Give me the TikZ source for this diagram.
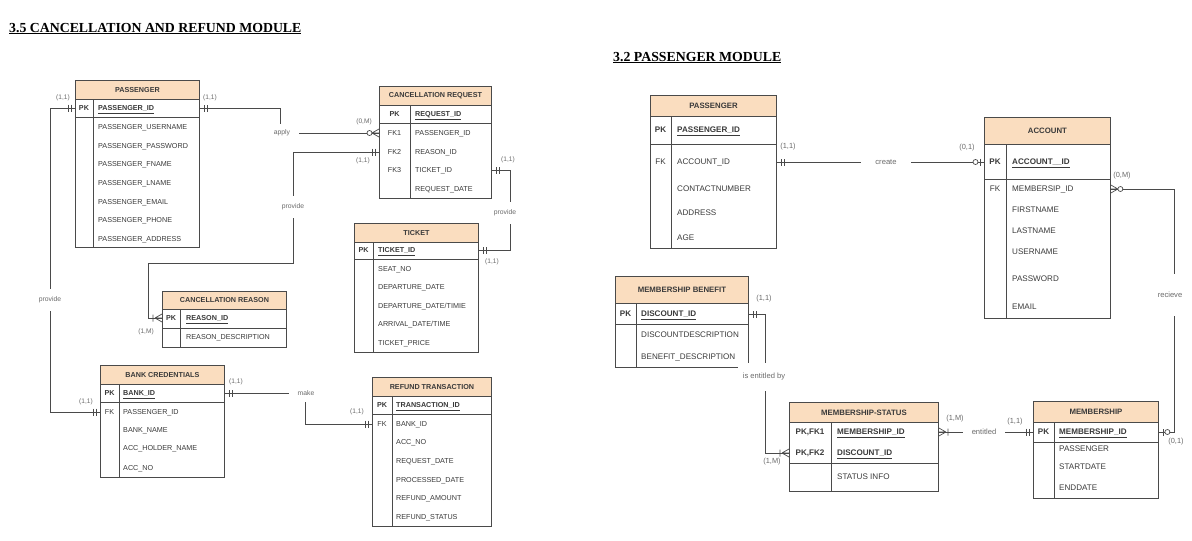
\documentclass[tikz,border=0pt]{standalone}
\usepackage{fontspec}
\setmainfont{Liberation Serif}
\setsansfont{Liberation Sans}
\definecolor{hdrc}{HTML}{FADDBF}
\definecolor{bordc}{HTML}{4A4A4A}
\definecolor{txtc}{HTML}{3A3A3A}
\definecolor{lblc}{HTML}{6A6A6A}
\tikzset{
  ln/.style={draw=bordc, line width=0.7pt},
  tbl/.style={draw=bordc, line width=0.9pt, inner sep=0pt, anchor=north west},
  hd/.style={tbl, fill=hdrc, text=txtc},
  lh/.style={hd, font=\sffamily\bfseries\fontsize{7.2}{8}\selectfont},
  rh/.style={hd, font=\sffamily\bfseries\fontsize{7.8}{9}\selectfont},
  la/.style={anchor=west, inner sep=0pt, text=txtc, text height=5.2pt, text depth=0pt, font=\sffamily\fontsize{7.2}{8}\selectfont},
  ra/.style={anchor=west, inner sep=0pt, text=txtc, text height=5.8pt, text depth=0pt, font=\sffamily\fontsize{8.1}{9}\selectfont},
  lk/.style={inner sep=0pt, text=txtc, text height=5.2pt, text depth=0pt, font=\sffamily\fontsize{7.2}{8}\selectfont},
  rk/.style={inner sep=0pt, text=txtc, text height=5.8pt, text depth=0pt, font=\sffamily\fontsize{8.1}{9}\selectfont},
  lb/.style={inner sep=0pt, text=lblc, font=\sffamily\fontsize{6.6}{7}\selectfont},
  rb/.style={inner sep=0pt, text=lblc, font=\sffamily\fontsize{7.4}{8}\selectfont},
  lrel/.style={fill=white, inner xsep=5pt, inner ysep=4pt, text=lblc, font=\sffamily\fontsize{6.8}{8}\selectfont},
  rrel/.style={fill=white, inner xsep=5pt, inner ysep=4pt, text=lblc, font=\sffamily\fontsize{7.6}{9}\selectfont},
  ttl/.style={anchor=base west, inner sep=0pt, text=black, font=\rmfamily\bfseries\fontsize{13.8}{16}\selectfont},
  pics/erone/.style={code={\draw[ln] (-4,-3.5) -- (-4,3.5) (-7,-3.5) -- (-7,3.5);}},
  pics/erzm/.style={code={\draw[ln] (-7,0) -- (0,-4) (-7,0) -- (0,0) (-7,0) -- (0,4); \draw[ln, fill=white] (-9.5,0) circle (2.5pt);}},
  pics/erom/.style={code={\draw[ln] (-7,0) -- (0,-4) (-7,0) -- (0,0) (-7,0) -- (0,4) (-9,-3.5) -- (-9,3.5);}},
  pics/erzo/.style={code={\draw[ln] (-4,-3.5) -- (-4,3.5); \draw[ln, fill=white] (-8.5,0) circle (2.5pt);}},
}
\begin{document}
\begin{tikzpicture}[x=1pt, y=-1pt]
\useasboundingbox[fill=white] (0,0) rectangle (1192,541);

% titles
\node[ttl] (t1) at (9,32) {\underline{3.5 CANCELLATION AND REFUND MODULE}};
\node[ttl] (t2) at (613,61) {\underline{3.2 PASSENGER MODULE}};

% ================= LEFT: PASSENGER =================
\node[tbl, minimum width=124pt, minimum height=167pt] (lp) at (75,80) {};
\node[lh, minimum width=124pt, minimum height=19pt] (lp-h) at (75,80) {PASSENGER};
\draw[ln] (75,117) -- (199,117) (93,99) -- (93,247);
\node[lk, font=\sffamily\bfseries\fontsize{7.2}{8}\selectfont] (lp-k1) at (84,108) {PK};
\node[la] (lp-r1) at (98,108) {\bfseries\underline{PASSENGER\_ID}};
\node[la] (lp-r2) at (98,127) {PASSENGER\_USERNAME};
\node[la] (lp-r3) at (98,146) {PASSENGER\_PASSWORD};
\node[la] (lp-r4) at (98,164) {PASSENGER\_FNAME};
\node[la] (lp-r5) at (98,183) {PASSENGER\_LNAME};
\node[la] (lp-r6) at (98,202) {PASSENGER\_EMAIL};
\node[la] (lp-r7) at (98,220) {PASSENGER\_PHONE};
\node[la] (lp-r8) at (98,239) {PASSENGER\_ADDRESS};

% ================= CANCELLATION REQUEST =================
\node[tbl, minimum width=112pt, minimum height=112pt] (cr) at (379,86) {};
\node[lh, minimum width=112pt, minimum height=19pt] (cr-h) at (379,86) {CANCELLATION REQUEST};
\draw[ln] (379,123) -- (491,123) (410,105) -- (410,198);
\node[lk, font=\sffamily\bfseries\fontsize{7.2}{8}\selectfont] (cr-k1) at (394.5,114) {PK};
\node[lk] (cr-k2) at (394.5,133) {FK1};
\node[lk] (cr-k3) at (394.5,152) {FK2};
\node[lk] (cr-k4) at (394.5,170) {FK3};
\node[la] (cr-r1) at (415,114) {\bfseries\underline{REQUEST\_ID}};
\node[la] (cr-r2) at (415,133) {PASSENGER\_ID};
\node[la] (cr-r3) at (415,152) {REASON\_ID};
\node[la] (cr-r4) at (415,170) {TICKET\_ID};
\node[la] (cr-r5) at (415,189) {REQUEST\_DATE};

% ================= TICKET =================
\node[tbl, minimum width=124pt, minimum height=129pt] (tk) at (354,223) {};
\node[lh, minimum width=124pt, minimum height=19pt] (tk-h) at (354,223) {TICKET};
\draw[ln] (354,259) -- (478,259) (373,242) -- (373,352);
\node[lk, font=\sffamily\bfseries\fontsize{7.2}{8}\selectfont] (tk-k1) at (363.5,250) {PK};
\node[la] (tk-r1) at (378,250) {\bfseries\underline{TICKET\_ID}};
\node[la] (tk-r2) at (378,269) {SEAT\_NO};
\node[la] (tk-r3) at (378,287) {DEPARTURE\_DATE};
\node[la] (tk-r4) at (378,306) {DEPARTURE\_DATE/TIMIE};
\node[la] (tk-r5) at (378,324) {ARRIVAL\_DATE/TIME};
\node[la] (tk-r6) at (378,343) {TICKET\_PRICE};

% ================= CANCELLATION REASON =================
\node[tbl, minimum width=124pt, minimum height=56pt] (rs) at (162,291) {};
\node[lh, minimum width=124pt, minimum height=18pt] (rs-h) at (162,291) {CANCELLATION REASON};
\draw[ln] (162,328) -- (286,328) (180,309) -- (180,347);
\node[lk, font=\sffamily\bfseries\fontsize{7.2}{8}\selectfont] (rs-k1) at (171,318) {PK};
\node[la] (rs-r1) at (186,318) {\bfseries\underline{REASON\_ID}};
\node[la] (rs-r2) at (186,337) {REASON\_DESCRIPTION};

% ================= BANK CREDENTIALS =================
\node[tbl, minimum width=124pt, minimum height=112pt] (bc) at (100,365) {};
\node[lh, minimum width=124pt, minimum height=19pt] (bc-h) at (100,365) {BANK CREDENTIALS};
\draw[ln] (100,402) -- (224,402) (119,384) -- (119,477);
\node[lk, font=\sffamily\bfseries\fontsize{7.2}{8}\selectfont] (bc-k1) at (109.5,393) {PK};
\node[lk] (bc-k2) at (109.5,412) {FK};
\node[la] (bc-r1) at (123,393) {\bfseries\underline{BANK\_ID}};
\node[la] (bc-r2) at (123,412) {PASSENGER\_ID};
\node[la] (bc-r3) at (123,430) {BANK\_NAME};
\node[la] (bc-r4) at (123,448) {ACC\_HOLDER\_NAME};
\node[la] (bc-r5) at (123,468) {ACC\_NO};

% ================= REFUND TRANSACTION =================
\node[tbl, minimum width=119pt, minimum height=149pt] (rf) at (372,377) {};
\node[lh, minimum width=119pt, minimum height=19pt] (rf-h) at (372,377) {REFUND TRANSACTION};
\draw[ln] (372,414) -- (491,414) (392,396) -- (392,526);
\node[lk, font=\sffamily\bfseries\fontsize{7.2}{8}\selectfont] (rf-k1) at (382,405) {PK};
\node[lk] (rf-k2) at (382,424) {FK};
\node[la] (rf-r1) at (396,405) {\bfseries\underline{TRANSACTION\_ID}};
\node[la] (rf-r2) at (396,424) {BANK\_ID};
\node[la] (rf-r3) at (396,442) {ACC\_NO};
\node[la] (rf-r4) at (396,461) {REQUEST\_DATE};
\node[la] (rf-r5) at (396,480) {PROCESSED\_DATE};
\node[la] (rf-r6) at (396,498) {REFUND\_AMOUNT};
\node[la] (rf-r7) at (396,517) {REFUND\_STATUS};

% ---- left connectors ----
\draw[ln] (lp.west |- lp-r1) -- ++(-25,0) |- (bc.west |- bc-r2);
\pic at (bc.west |- bc-r2) {erone};
\pic at (lp.west |- lp-r1) {erone};
\node[lrel, inner ysep=8pt] (rl1) at (50,300) {provide};
\node[lb] (c1) at (63,98) {(1,1)};
\node[lb] (c2) at (86,402) {(1,1)};

\draw[ln] (lp.east |- lp-r1) -- ++(80,0) |- (cr.west |- cr-r2);
\pic[rotate=180] at (lp.east |- lp-r1) {erone};
\pic at (cr.west |- cr-r2) {erzm};
\node[lrel, inner xsep=9pt, inner ysep=6pt] (rl2) at (282,133) {apply};
\node[lb] (c3) at (210,98) {(1,1)};
\node[lb] (c4) at (364,122) {(0,M)};

\draw[ln] (cr.west |- cr-r3) -- ++(-86,0) |- ++(-145,111) |- (rs.west |- rs-r1);
\pic at (cr.west |- cr-r3) {erone};
\pic at (rs.west |- rs-r1) {erom};
\node[lrel, inner ysep=8pt] (rl3) at (293,207) {provide};
\node[lb] (c5) at (363,161) {(1,1)};
\node[lb] (c6) at (146,332) {(1,M)};

\draw[ln] (cr.east |- cr-r4) -- ++(18,0) |- (tk.east |- tk-r1);
\pic[rotate=180] at (cr.east |- cr-r4) {erone};
\pic[rotate=180] at (tk.east |- tk-r1) {erone};
\node[lrel, inner ysep=8pt] (rl4) at (505,213) {provide};
\node[lb] (c7) at (508,160) {(1,1)};
\node[lb] (c8) at (492,262) {(1,1)};

\draw[ln] (bc.east |- bc-r1) -| ++(80,31) -- (rf.west |- rf-r2);
\pic[rotate=180] at (bc.east |- bc-r1) {erone};
\pic at (rf.west |- rf-r2) {erone};
\node[lrel, inner xsep=9pt, inner ysep=6pt] (rl5) at (306,393) {make};
\node[lb] (c9) at (236,382) {(1,1)};
\node[lb] (c10) at (357,412) {(1,1)};

% ================= RIGHT: PASSENGER =================
\node[tbl, minimum width=126pt, minimum height=153pt] (rp) at (650,95) {};
\node[rh, minimum width=126pt, minimum height=21pt] (rp-h) at (650,95) {PASSENGER};
\draw[ln] (650,144) -- (776,144) (671,116) -- (671,248);
\node[rk, font=\sffamily\bfseries\fontsize{8.1}{9}\selectfont] (rp-k1) at (660.5,130) {PK};
\node[rk] (rp-k2) at (660.5,162) {FK};
\node[ra] (rp-r1) at (677,130) {\bfseries\underline{PASSENGER\_ID}};
\node[ra] (rp-r2) at (677,162) {ACCOUNT\_ID};
\node[ra] (rp-r3) at (677,189) {CONTACTNUMBER};
\node[ra] (rp-r4) at (677,213) {ADDRESS};
\node[ra] (rp-r5) at (677,238) {AGE};

% ================= ACCOUNT =================
\node[tbl, minimum width=126pt, minimum height=201pt] (ac) at (984,117) {};
\node[rh, minimum width=126pt, minimum height=27pt] (ac-h) at (984,117) {ACCOUNT};
\draw[ln] (984,179) -- (1110,179) (1006,144) -- (1006,318);
\node[rk, font=\sffamily\bfseries\fontsize{8.1}{9}\selectfont] (ac-k1) at (995,162) {PK};
\node[rk] (ac-k2) at (995,189) {FK};
\node[ra] (ac-r1) at (1012,162) {\bfseries\underline{ACCOUNT\_\_ID}};
\node[ra] (ac-r2) at (1012,189) {MEMBERSIP\_ID};
\node[ra] (ac-r3) at (1012,210) {FIRSTNAME};
\node[ra] (ac-r4) at (1012,231) {LASTNAME};
\node[ra] (ac-r5) at (1012,252) {USERNAME};
\node[ra] (ac-r6) at (1012,279) {PASSWORD};
\node[ra] (ac-r7) at (1012,307) {EMAIL};

% ================= MEMBERSHIP BENEFIT =================
\node[tbl, minimum width=133pt, minimum height=91pt] (mb) at (615,276) {};
\node[rh, minimum width=133pt, minimum height=27pt] (mb-h) at (615,276) {MEMBERSHIP BENEFIT};
\draw[ln] (615,324) -- (748,324) (636,303) -- (636,367);
\node[rk, font=\sffamily\bfseries\fontsize{8.1}{9}\selectfont] (mb-k1) at (625.5,314) {PK};
\node[ra] (mb-r1) at (641,314) {\bfseries\underline{DISCOUNT\_ID}};
\node[ra] (mb-r2) at (641,335) {DISCOUNTDESCRIPTION};
\node[ra] (mb-r3) at (641,357) {BENEFIT\_DESCRIPTION};

% ================= MEMBERSHIP-STATUS =================
\node[tbl, minimum width=149pt, minimum height=89pt] (mst) at (789,402) {};
\node[rh, minimum width=149pt, minimum height=20pt] (mst-h) at (789,402) {MEMBERSHIP-STATUS};
\draw[ln] (789,463) -- (938,463) (831,422) -- (831,491);
\node[rk, font=\sffamily\bfseries\fontsize{8.1}{9}\selectfont] (mst-k1) at (810,432) {PK,FK1};
\node[rk, font=\sffamily\bfseries\fontsize{8.1}{9}\selectfont] (mst-k2) at (810,453) {PK,FK2};
\node[ra] (mst-r1) at (837,432) {\bfseries\underline{MEMBERSHIP\_ID}};
\node[ra] (mst-r2) at (837,453) {\bfseries\underline{DISCOUNT\_ID}};
\node[ra] (mst-r3) at (837,477) {STATUS INFO};

% ================= MEMBERSHIP =================
\node[tbl, minimum width=125pt, minimum height=97pt] (ms) at (1033,401) {};
\node[rh, minimum width=125pt, minimum height=21pt] (ms-h) at (1033,401) {MEMBERSHIP};
\draw[ln] (1033,442) -- (1158,442) (1054,422) -- (1054,498);
\node[rk, font=\sffamily\bfseries\fontsize{8.1}{9}\selectfont] (ms-k1) at (1043.5,432) {PK};
\node[ra] (ms-r1) at (1059,432) {\bfseries\underline{MEMBERSHIP\_ID}};
\node[ra] (ms-r2) at (1059,449) {PASSENGER};
\node[ra] (ms-r3) at (1059,467) {STARTDATE};
\node[ra] (ms-r4) at (1059,488) {ENDDATE};

% ---- right connectors ----
\draw[ln] (rp.east |- rp-r2) -- (ac.west |- ac-r1);
\pic[rotate=180] at (rp.east |- rp-r2) {erone};
\pic at (ac.west |- ac-r1) {erzo};
\node[rrel, inner xsep=14pt] (rr1) at (886,162) {create};
\node[rb] (d1) at (788,147) {(1,1)};
\node[rb] (d2) at (967,148) {(0,1)};

\draw[ln] (ac.east |- ac-r2) -- ++(63,0) |- (ms.east |- ms-r1);
\pic[rotate=180] at (ac.east |- ac-r2) {erzm};
\pic[rotate=180] at (ms.east |- ms-r1) {erzo};
\node[rrel, inner ysep=18pt] (rr2) at (1170,295) {recieve};
\node[rb] (d3) at (1122,176) {(0,M)};
\node[rb] (d4) at (1176,442) {(0,1)};

\draw[ln] (mb.east |- mb-r1) -- ++(16,0) |- (mst.west |- mst-r2);
\pic[rotate=180] at (mb.east |- mb-r1) {erone};
\pic at (mst.west |- mst-r2) {erom};
\node[rrel, inner ysep=10pt] (rr3) at (764,377) {is entitled by};
\node[rb] (d5) at (764,299) {(1,1)};
\node[rb] (d6) at (772,462) {(1,M)};

\draw[ln] (mst.east |- mst-r1) -- (ms.west |- ms-r1);
\pic[rotate=180] at (mst.east |- mst-r1) {erom};
\pic at (ms.west |- ms-r1) {erone};
\node[rrel, inner xsep=9pt] (rr4) at (984,432) {entitled};
\node[rb] (d7) at (955,419) {(1,M)};
\node[rb] (d8) at (1015,422) {(1,1)};
\end{tikzpicture}
\end{document}
